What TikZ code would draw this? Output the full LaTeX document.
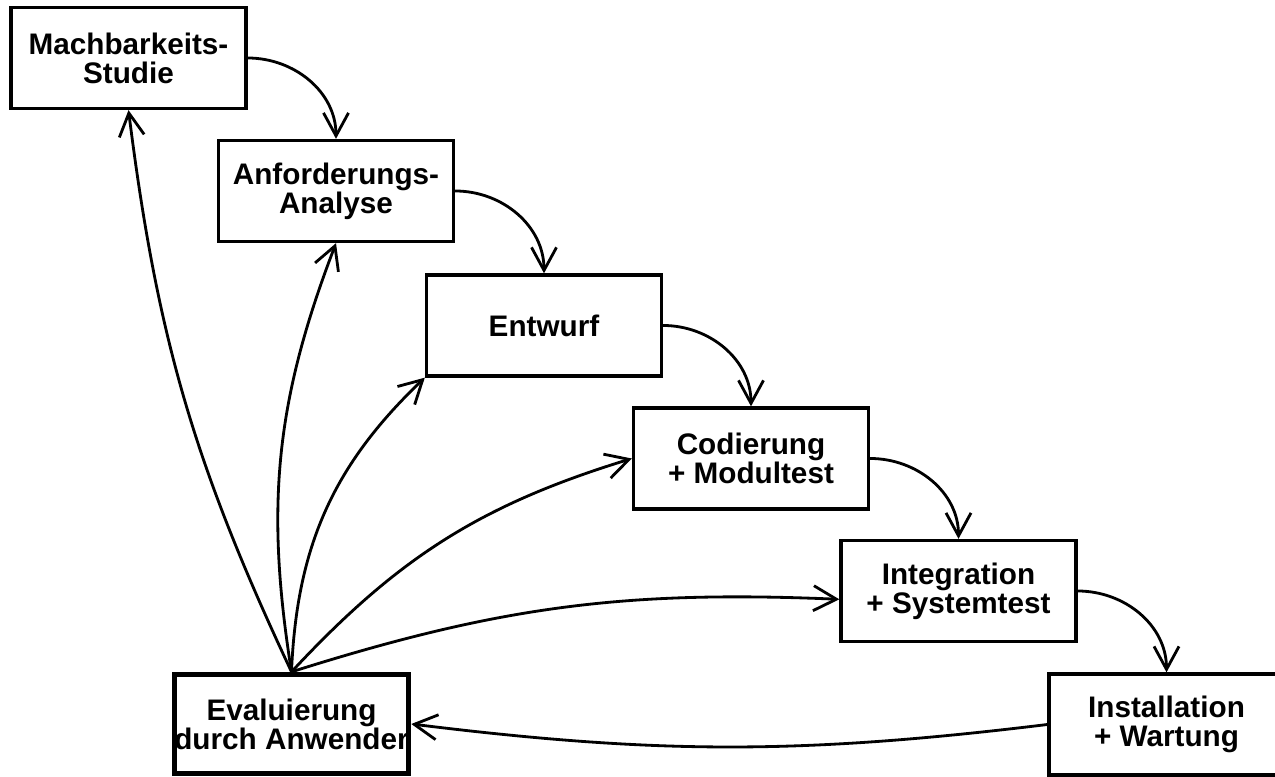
\documentclass[tikz,border=0pt]{standalone}
\usepackage{fontspec}
\setmainfont{Liberation Sans}
\usetikzlibrary{arrows.meta}
\begin{document}
\begin{tikzpicture}[line width=1.6pt,
  phase/.style={draw, line width=1.9pt, minimum width=4.70cm, minimum height=2.02cm,
    inner sep=0pt, align=center, font=\bfseries\fontsize{16.9}{16.5}\selectfont},
  flow/.style={-{Straight Barb[length=4.6mm,width=5mm]}}]
  \useasboundingbox (0,0) rectangle (25.5,15.54);
  \node[phase] (mach) at (2.57,14.38) {Machbarkeits-\\Studie};
  \node[phase] (anf) at (6.72,11.72) {Anforderungs-\\Analyse};
  \node[phase] (entw) at (10.88,9.03) {Entwurf};
  \node[phase] (cod) at (15.02,6.37) {Codierung\\+ Modultest};
  \node[phase] (int) at (19.17,3.72) {Integration\\+ Systemtest};
  \node[phase] (inst) at (23.33,1.05) {Installation\\+ Wartung};
  \node[phase, line width=3pt, minimum width=4.64cm, minimum height=1.98cm] (eval) at (5.83,1.06) {Evaluierung\\durch Anwender};
  \foreach \a/\b in {mach/anf, anf/entw, entw/cod, cod/int, int/inst}
    \draw[flow] (\a.east) to[out=0, in=90] (\b.north);
  \draw[flow] (eval.north) to[bend left=9] (mach.south);
  \draw[flow] (eval.north) to[bend left=15] (anf.south);
  \draw[flow] (eval.north) to[bend left=22] (entw.south west);
  \draw[flow] (eval.north) to[bend left=15] (cod.west);
  \draw[flow] (eval.north) to[bend left=10] (int.184);
  \draw[flow] (inst.west) to[bend left=7] (eval.east);
\end{tikzpicture}
\end{document}
